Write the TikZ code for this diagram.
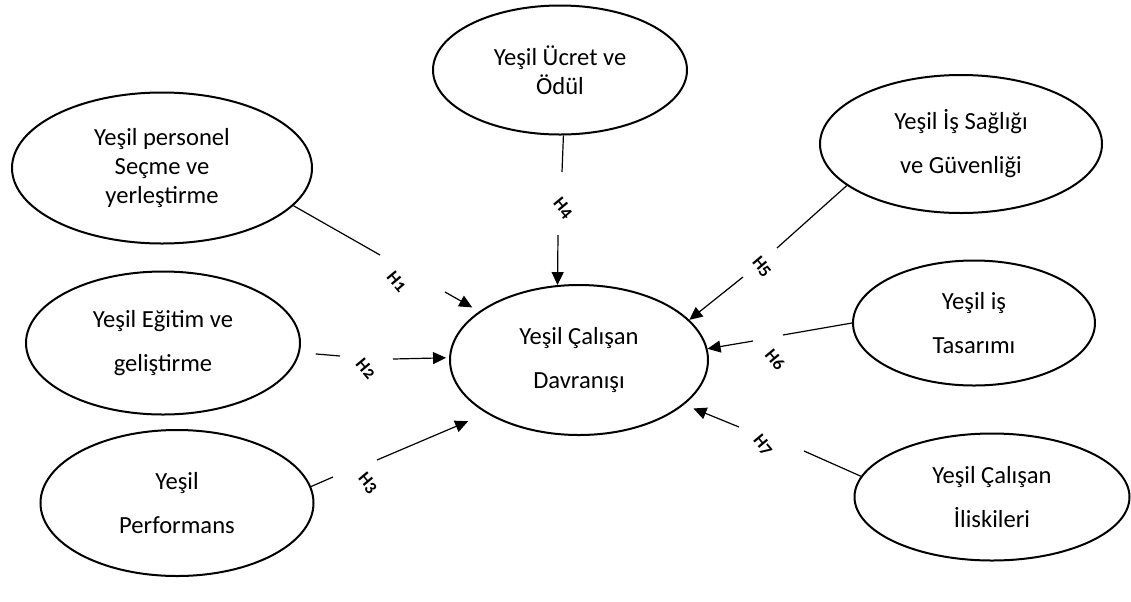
\documentclass[tikz,border=0pt]{standalone}
\usepackage{fontspec}
\setmainfont{Carlito}
\usetikzlibrary{shapes.geometric,arrows.meta}

\begin{document}
\begin{tikzpicture}[x=0.5pt, y=-0.5pt, semithick,
    ell/.style={ellipse, draw, line width=1pt, inner sep=0pt, align=center, font=\fontsize{12.3}{22}\selectfont},
    hyp/.style={rotate=-50, inner sep=0pt, font=\fontsize{9}{9}\selectfont\bfseries\addfontfeatures{Numbers=OldStyle}},
    arr/.style={-{Triangle[length=6.5pt,width=6pt]}}]
      \useasboundingbox (0,0) rectangle (1131,601);
      \node [ell, minimum width=150pt, minimum height=75.5pt, font=\fontsize{12.3}{14.5}\selectfont] (sel) at (162,168) {Yeşil personel\\Seçme ve\\yerleştirme};
      \node [ell, minimum width=137pt, minimum height=71.5pt] (edu) at (163,343) {Yeşil Eğitim ve\\geliştirme};
      \node [ell, minimum width=136.5pt, minimum height=73pt] (perf) at (177,503) {Yeşil\\Performans};
      \node [ell, minimum width=127pt, minimum height=64.5pt, font=\fontsize{12.3}{14.5}\selectfont] (odul) at (560,70) {Yeşil Ücret ve\\Ödül};
      \node [ell, minimum width=129pt, minimum height=75pt] (dav) at (579,360) {Yeşil Çalışan\\Davranışı};
      \node [ell, minimum width=141pt, minimum height=69pt] (isg) at (961,144) {Yeşil İş Sağlığı\\ve Güvenliği};
      \node [ell, minimum width=121pt, minimum height=62.5pt] (tas) at (974,323) {Yeşil iş\\Tasarımı};
      \node [ell, minimum width=137.5pt, minimum height=63.5pt] (ili) at (992,497) {Yeşil Çalışan\\İliskileri};

      \coordinate (h1a) at (380,255);
      \coordinate (h1b) at (445,292);
      \coordinate (h2a) at (340,356);
      \coordinate (h2b) at (393,359);
      \coordinate (h3a) at (333,477);
      \coordinate (h3b) at (377,460);
      \coordinate (h4a) at (562,172);
      \coordinate (h4b) at (558,235);
      \coordinate (h5a) at (777,248);
      \coordinate (h5b) at (743,277);
      \coordinate (h6a) at (783,335);
      \coordinate (h6b) at (753,341);
      \coordinate (h7a) at (804,451);
      \coordinate (h7b) at (739,427);

      \node [hyp] (hyp1) at (397,282) {H1};
      \node [hyp] (hyp2) at (366,369) {H2};
      \node [hyp] (hyp3) at (368,483) {H3};
      \node [hyp] (hyp4) at (563,208) {H4};
      \node [hyp] (hyp5) at (762,267) {H5};
      \node [hyp] (hyp6) at (775,360) {H6};
      \node [hyp] (hyp7) at (763,445) {H7};

      \path
      (sel.-16) edge (h1a)
      (h1b) edge [arr, shorten >=4pt] (dav.154)
      (edu.-4) edge [shorten <=8pt] (h2a)
      (h2b) edge [arr, shorten >=1.5pt] (dav.179)
      (perf.7) edge (h3a)
      (h3b) edge [arr, shorten >=10pt] (dav.210)
      (odul.-87) edge (h4a)
      (h4b) edge [arr] (dav.106)
      (isg.200) edge (h5a)
      (h5b) edge [arr] (dav.20)
      (tas.west) edge (h6a)
      (h6b) edge [arr] (dav.5)
      (ili.171) edge (h7a)
      (h7b) edge [arr, shorten >=5pt] (dav.-23)
      ;
\end{tikzpicture}
\end{document}
